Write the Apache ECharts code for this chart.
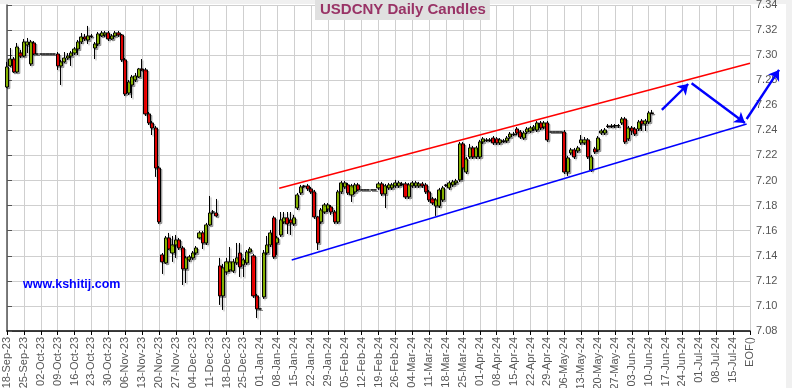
<!DOCTYPE html>
<html><head><meta charset="utf-8">
<script src="https://cdn.jsdelivr.net/npm/echarts/dist/echarts.min.js"></script>
<style>html,body{margin:0;padding:0;background:#fff}#c{width:792px;height:388px}</style>
</head><body><div id="c"></div>
<script>
// Weekly tick labels (every 5 trading days)
const weekLabels = ['18-Sep-23','25-Sep-23','02-Oct-23','09-Oct-23','16-Oct-23','23-Oct-23','30-Oct-23','06-Nov-23','13-Nov-23','20-Nov-23','27-Nov-23','04-Dec-23','11-Dec-23','18-Dec-23','25-Dec-23','01-Jan-24','08-Jan-24','15-Jan-24','22-Jan-24','29-Jan-24','05-Feb-24','12-Feb-24','19-Feb-24','26-Feb-24','04-Mar-24','11-Mar-24','18-Mar-24','25-Mar-24','01-Apr-24','08-Apr-24','15-Apr-24','22-Apr-24','29-Apr-24','06-May-24','13-May-24','20-May-24','27-May-24','03-Jun-24','10-Jun-24','17-Jun-24','24-Jun-24','01-Jul-24','08-Jul-24','15-Jul-24','EOF()'];
const yTicks = [7.08,7.10,7.12,7.14,7.16,7.18,7.20,7.22,7.24,7.26,7.28,7.30,7.32,7.34];

// Daily candles (one per weekday, index 0 = 18-Sep-23)
const open = [
7.2746,7.2914,7.2969,7.2866,7.3017, 7.2993,7.3081,7.2930,7.3097,7.3009, 7.3009,7.3009,7.3009,7.3009,7.3009,
7.3009,7.2914,7.2946,7.2977,7.2993, 7.3017,7.3049,7.3105,7.3145,7.3121, 7.3153,7.3057,7.3089,7.3153,7.3161,
7.3177,7.3129,7.3153,7.3177,7.3161, 7.2962,7.2698,7.2762,7.2802,7.2826, 7.2890,7.2882,7.2531,7.2459,7.2419,
7.2100,7.1407,7.1343,7.1542,7.1422, 7.1486,7.1526,7.1462,7.1295,7.1367, 7.1383,7.1422,7.1542,7.1582,7.1502,
7.1646,7.1749,7.1741,7.1319,7.1080, 7.1271,7.1287,7.1279,7.1343,7.1422, 7.1327,7.1343,7.1430,7.1399,7.1080,
7.0976,7.1072,7.1422,7.1486,7.1702, 7.1502,7.1566,7.1670,7.1702,7.1686, 7.1654,7.1781,7.1901,7.1957,7.1957,
7.1933,7.1909,7.1710,7.1670,7.1749, 7.1773,7.1789,7.1749,7.1670,7.1909, 7.1949,7.1965,7.1885,7.1909,7.1965,
7.1925,7.1925,7.1925,7.1925,7.1925, 7.1941,7.1973,7.1893,7.1941,7.1941, 7.1957,7.1957,7.1973,7.1973,7.1869,
7.1957,7.1957,7.1957,7.1973,7.1965, 7.1909,7.1853,7.1797,7.1797,7.1845, 7.1965,7.1941,7.1965,7.1981,7.2005,
7.2292,7.2068,7.2188,7.2260,7.2188, 7.2188,7.2308,7.2324,7.2324,7.2339, 7.2332,7.2300,7.2316,7.2316,7.2347,
7.2371,7.2411,7.2387,7.2339,7.2387, 7.2395,7.2411,7.2403,7.2459,7.2427, 7.2459,7.2387,7.2387,7.2387,7.2387,
7.2387,7.2068,7.2220,7.2244,7.2236, 7.2300,7.2300,7.2324,7.2084,7.2252, 7.2244,7.2379,7.2379,7.2435,7.2435,
7.2435,7.2435,7.2459,7.2491,7.2332, 7.2419,7.2411,7.2411,7.2475,7.2451, 7.2467,7.2539];
const close = [
7.2906,7.2969,7.2866,7.3065,7.2993, 7.3105,7.3105,7.3105,7.3009,7.3009, 7.3009,7.3009,7.3009,7.3009,7.3009,
7.2914,7.2946,7.2977,7.2993,7.3017, 7.3049,7.3105,7.3145,7.3129,7.3153, 7.3149,7.3089,7.3169,7.3177,7.3177,
7.3129,7.3153,7.3177,7.3161,7.2962, 7.2690,7.2786,7.2826,7.2834,7.2890, 7.2882,7.2531,7.2459,7.2419,7.2100,
7.1670,7.1351,7.1542,7.1454,7.1486, 7.1526,7.1462,7.1295,7.1383,7.1391, 7.1422,7.1462,7.1582,7.1502,7.1646,
7.1741,7.1749,7.1718,7.1080,7.1303, 7.1351,7.1351,7.1351,7.1383,7.1311, 7.1367,7.1430,7.1454,7.1080,7.0976,
7.0976,7.1422,7.1486,7.1582,7.1391, 7.1542,7.1686,7.1702,7.1654,7.1662, 7.1702,7.1885,7.1949,7.1953,7.1933,
7.1909,7.1710,7.1502,7.1765,7.1805, 7.1805,7.1749,7.1670,7.1909,7.1981, 7.1981,7.1901,7.1957,7.1965,7.1925,
7.1925,7.1925,7.1925,7.1925,7.1925, 7.1973,7.1893,7.1957,7.1965,7.1965, 7.1981,7.1981,7.1969,7.1869,7.1965,
7.1981,7.1981,7.1973,7.1957,7.1909, 7.1845,7.1821,7.1845,7.1925,7.1941, 7.1961,7.1981,7.1989,7.1997,7.2292,
7.2100,7.2172,7.2260,7.2188,7.2260, 7.2308,7.2332,7.2320,7.2320,7.2300, 7.2300,7.2324,7.2312,7.2339,7.2371,
7.2367,7.2379,7.2347,7.2379,7.2411, 7.2419,7.2427,7.2459,7.2419,7.2459, 7.2324,7.2387,7.2387,7.2387,7.2387,
7.2068,7.2180,7.2244,7.2188,7.2260, 7.2324,7.2324,7.2188,7.2188,7.2228, 7.2339,7.2395,7.2403,7.2431,7.2431,
7.2439,7.2439,7.2491,7.2308,7.2419, 7.2395,7.2371,7.2467,7.2451,7.2475, 7.2539,7.2535];
const low = [
7.2738,7.2906,7.2858,7.2858,7.2977, 7.2985,7.3017,7.2914,7.3001,7.3009, 7.3009,7.3009,7.3009,7.3009,7.3009,
7.2882,7.2762,7.2938,7.2962,7.2914, 7.3001,7.3001,7.3089,7.3113,7.3089, 7.3137,7.2969,7.3073,7.3145,7.3145,
7.3113,7.3121,7.3145,7.3145,7.2946, 7.2674,7.2682,7.2658,7.2786,7.2818, 7.2874,7.2515,7.2443,7.2363,7.2029,
7.1654,7.1255,7.1335,7.1446,7.1351, 7.1383,7.1446,7.1167,7.1183,7.1351, 7.1367,7.1407,7.1534,7.1454,7.1486,
7.1638,7.1734,7.1710,7.1008,7.0968, 7.1247,7.1271,7.1263,7.1327,7.1231, 7.1231,7.1327,7.1422,7.1064,7.0904,
7.0976,7.1056,7.1407,7.1470,7.1375, 7.1407,7.1550,7.1654,7.1574,7.1566, 7.1638,7.1765,7.1885,7.1941,7.1917,
7.1893,7.1694,7.1446,7.1654,7.1734, 7.1749,7.1726,7.1654,7.1654,7.1893, 7.1933,7.1885,7.1829,7.1893,7.1917,
7.1925,7.1925,7.1925,7.1925,7.1925, 7.1925,7.1877,7.1781,7.1925,7.1925, 7.1941,7.1941,7.1957,7.1853,7.1853,
7.1941,7.1941,7.1941,7.1941,7.1893, 7.1829,7.1805,7.1718,7.1781,7.1829, 7.1949,7.1925,7.1949,7.1965,7.1989,
7.2005,7.2052,7.2172,7.2172,7.2172, 7.2172,7.2292,7.2308,7.2308,7.2284, 7.2284,7.2284,7.2300,7.2300,7.2332,
7.2355,7.2363,7.2332,7.2324,7.2371, 7.2379,7.2395,7.2387,7.2403,7.2411, 7.2308,7.2387,7.2387,7.2387,7.2387,
7.2052,7.2037,7.2204,7.2172,7.2220, 7.2284,7.2284,7.2172,7.2068,7.2212, 7.2228,7.2363,7.2363,7.2419,7.2419,
7.2419,7.2419,7.2443,7.2292,7.2316, 7.2363,7.2355,7.2395,7.2395,7.2395, 7.2451,7.2531];
const high = [
7.2946,7.3057,7.2985,7.3097,7.3041, 7.3129,7.3137,7.3121,7.3113,7.3009, 7.3009,7.3009,7.3009,7.3009,7.3009,
7.3025,7.2962,7.3025,7.3017,7.3033, 7.3065,7.3121,7.3177,7.3169,7.3233, 7.3169,7.3105,7.3185,7.3193,7.3193,
7.3193,7.3169,7.3193,7.3193,7.3169, 7.2977,7.2802,7.2842,7.2858,7.2898, 7.2969,7.2898,7.2547,7.2475,7.2435,
7.2116,7.1422,7.1558,7.1582,7.1558, 7.1566,7.1542,7.1478,7.1399,7.1407, 7.1438,7.1478,7.1598,7.1598,7.1662,
7.1877,7.1765,7.1853,7.1383,7.1335, 7.1383,7.1470,7.1375,7.1502,7.1502, 7.1383,7.1446,7.1470,7.1415,7.1096,
7.0976,7.1446,7.1558,7.1606,7.1718, 7.1558,7.1749,7.1749,7.1749,7.1749, 7.1726,7.1901,7.1965,7.1965,7.1973,
7.1949,7.1925,7.1718,7.1781,7.1821, 7.1821,7.1805,7.1765,7.1925,7.1997, 7.1997,7.1981,7.1973,7.1981,7.1981,
7.1925,7.1925,7.1925,7.1925,7.1925, 7.1989,7.1989,7.1973,7.1981,7.1981, 7.2005,7.1997,7.1989,7.1989,7.1981,
7.1997,7.1997,7.1989,7.1989,7.1981, 7.1925,7.1869,7.1861,7.1941,7.1957, 7.1973,7.1997,7.2005,7.2013,7.2308,
7.2308,7.2188,7.2292,7.2276,7.2276, 7.2324,7.2347,7.2339,7.2339,7.2355, 7.2347,7.2339,7.2332,7.2355,7.2387,
7.2387,7.2427,7.2403,7.2395,7.2427, 7.2435,7.2443,7.2475,7.2475,7.2475, 7.2475,7.2387,7.2387,7.2387,7.2387,
7.2403,7.2196,7.2260,7.2260,7.2276, 7.2363,7.2347,7.2339,7.2204,7.2268, 7.2355,7.2411,7.2419,7.2451,7.2451,
7.2451,7.2451,7.2507,7.2507,7.2435, 7.2435,7.2427,7.2483,7.2491,7.2491, 7.2555,7.2563];

// Trend channel and projection arrows, in (trading-day index, price)
const redTrend  = [[80.6, 7.1938], [220.0, 7.2935]];
const blueTrend = [[84.3, 7.1367], [219.0, 7.2451]];
const arrowPath = [
  [[193.9, 7.2563], [201.7, 7.2770]],
  [[202.7, 7.2776], [218.5, 7.2459]],
  [[219.0, 7.2491], [228.6, 7.2882]]
];

const candles = open.map((o, i) => [i, o, close[i], low[i], high[i]]);
const xMax = (weekLabels.length - 1) * 5;

const chart = echarts.init(document.getElementById('c'), null, {renderer: 'canvas'});
const FONT = '"Liberation Sans", Arial, sans-serif';
chart.setOption({
  animation: false,
  backgroundColor: '#ffffff',
  title: {
    text: 'USDCNY Daily Candles',
    left: 315, top: 0,
    padding: [2, 4, 3, 5],
    backgroundColor: '#e0e0e0',
    textStyle: {fontFamily: FONT, fontSize: 15, fontWeight: 'bold', color: '#993366'}
  },
  graphic: [
    {type: 'rect', left: 786, top: 0, z: -1, shape: {width: 6, height: 388}, style: {fill: '#f0f0f0'}},
    {type: 'rect', left: 0, top: 0, z: -1, shape: {width: 792, height: 4}, style: {fill: '#f0f0f0'}},
    {type: 'text', left: 23, top: 278, z: 10,
     style: {text: 'www.kshitij.com', fill: '#0000ff', font: 'bold 12.5px "Liberation Sans", Arial, sans-serif'}}
  ],
  grid: {left: 7, right: 42, top: 5, bottom: 57, containLabel: false, outerBoundsMode: 'none'},
  xAxis: {
    type: 'value', min: 0, max: xMax, interval: 5,
    axisLine: {show: true, onZero: false, lineStyle: {color: '#000', width: 1.5}},
    axisTick: {show: true, length: 4, lineStyle: {color: '#000'}},
    axisLabel: {
      show: true, rotate: 90, margin: 6, fontSize: 11, color: '#555', fontFamily: FONT,
      showMinLabel: true, showMaxLabel: true, hideOverlap: false,
      formatter: v => weekLabels[Math.round(v / 5)] || ''
    },
    splitLine: {show: true, lineStyle: {color: '#cfcfcf', width: 1}}
  },
  yAxis: {
    type: 'value', position: 'right',
    min: yTicks[0], max: yTicks[yTicks.length - 1], interval: 0.02,
    axisLine: {show: true, lineStyle: {color: '#555', width: 1.5}},
    axisTick: {show: true, length: 5, lineStyle: {color: '#555'}},
    axisLabel: {fontSize: 11, color: '#555', margin: 6, fontFamily: FONT, formatter: v => v.toFixed(2)},
    splitLine: {show: true, lineStyle: {color: '#cfcfcf', width: 1}}
  },
  series: [
    {
      type: 'candlestick',
      data: candles,
      encode: {x: 0, y: [1, 2, 3, 4]},
      barWidth: 3.6,
      itemStyle: {
        color: '#99cc00', color0: '#ff0000',
        borderColor: '#000000', borderColor0: '#000000', borderWidth: 1,
        shadowColor: 'rgba(0,0,0,0.28)', shadowBlur: 0, shadowOffsetX: 1.5, shadowOffsetY: 1.5
      },
      z: 3
    },
    {
      type: 'lines', coordinateSystem: 'cartesian2d', clip: false, silent: true, z: 4,
      data: [{coords: redTrend, lineStyle: {color: '#ff0000'}}, {coords: blueTrend, lineStyle: {color: '#0000ff'}}],
      lineStyle: {width: 1.6, opacity: 1}, symbol: ['none', 'none']
    },
    {
      type: 'lines', coordinateSystem: 'cartesian2d', clip: false, silent: true, z: 5,
      data: arrowPath.map(c => ({coords: c})),
      lineStyle: {color: '#0000ff', width: 2.4, opacity: 1},
      symbol: ['none', 'arrow'], symbolSize: 10
    }
  ]
});
</script>
</body></html>
